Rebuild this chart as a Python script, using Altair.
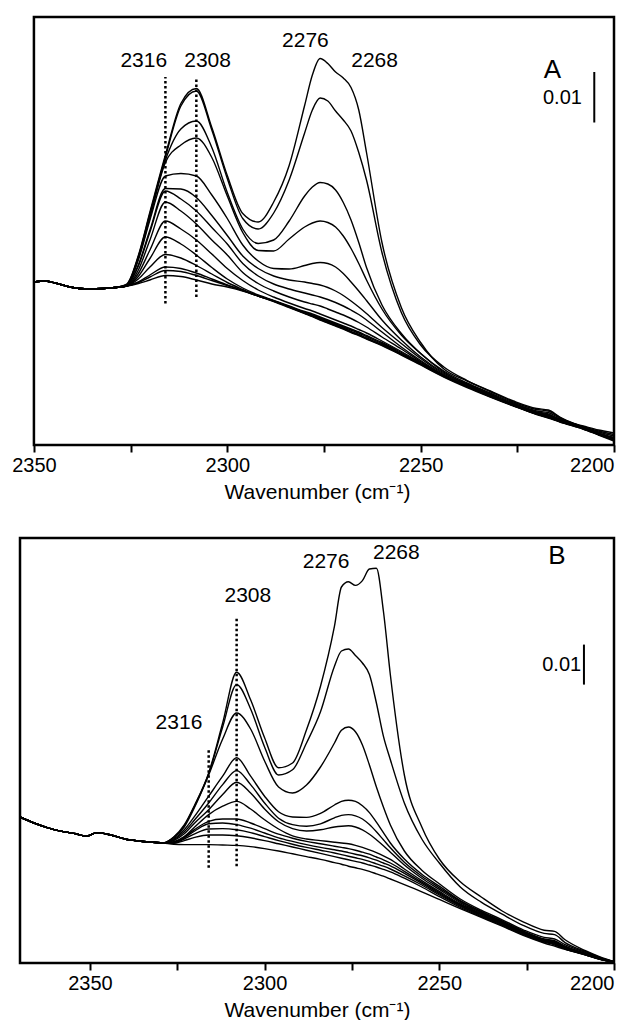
import altair as alt
import pandas as pd

FONT = "Liberation Sans"

# shared wavenumber grid (cm-1) for the band region
GRID = [2326, 2323, 2320, 2316, 2312, 2308, 2304, 2300, 2296, 2292, 2288, 2284,
        2280, 2278, 2276, 2274, 2272, 2270, 2268, 2266, 2264, 2260, 2255, 2250,
        2244, 2238, 2232, 2226, 2220, 2217, 2214, 2208, 2204, 2200]

# ---------------- Panel A ----------------
A_LEFT_W = [2350, 2347, 2344, 2340, 2336, 2332, 2329]
A_LEFT_V = [32.6, 32.8, 32.3, 31.5, 31.2, 31.3, 31.5]

A01 = [32.2, 37.9, 46.6, 58.0, 68.3, 71.3, 63.5, 53.9, 46.3, 44.6, 48.6, 55.9, 67.9, 74.0, 77.3, 76.3, 74.6, 73.4, 71.5, 67.0, 58.5, 40.5, 27.5, 20.5, 15.2, 12.8, 10.8, 8.8, 7.3, 7.0, 5.6, 3.6, 2.3, 1.2]
A02 = [32.1, 37.7, 46.3, 57.6, 67.8, 70.8, 63.0, 53.3, 45.3, 43.2, 46.4, 53.0, 62.4, 67.0, 69.4, 68.8, 66.8, 65.0, 62.8, 58.5, 53.0, 38.5, 26.5, 20.0, 15.6, 12.9, 10.7, 8.6, 7.1, 6.8, 5.5, 3.5, 2.2, 1.1]
A03 = [32.0, 37.5, 46.0, 57.0, 63.2, 64.8, 59.5, 50.5, 43.2, 40.3, 41.0, 44.8, 49.8, 51.6, 52.5, 52.2, 51.0, 48.5, 45.0, 40.5, 35.5, 28.0, 22.3, 18.3, 14.8, 12.4, 10.4, 8.4, 6.8, 6.5, 5.3, 3.5, 2.3, 1.3]
A04 = [32.0, 37.3, 45.5, 56.5, 60.0, 61.4, 57.5, 49.8, 42.5, 38.9, 38.8, 41.2, 43.6, 44.4, 44.8, 44.5, 43.6, 41.8, 39.3, 36.3, 33.0, 27.2, 22.0, 18.3, 14.6, 12.2, 10.2, 8.2, 6.6, 6.2, 5.1, 3.4, 2.2, 1.3]
A05 = [31.9, 37.0, 45.0, 53.8, 54.3, 53.8, 50.0, 45.3, 40.0, 36.8, 35.3, 35.2, 35.9, 36.3, 36.5, 36.3, 35.6, 34.3, 32.6, 30.8, 28.9, 25.0, 21.0, 17.6, 14.4, 12.1, 10.1, 8.1, 6.5, 6.0, 5.0, 3.4, 2.2, 1.2]
A06 = [31.9, 36.0, 43.0, 51.3, 51.2, 49.5, 45.9, 41.9, 37.8, 35.3, 33.8, 33.0, 32.6, 32.3, 32.0, 31.5, 30.8, 29.9, 28.8, 27.6, 26.3, 23.5, 20.3, 17.3, 14.2, 12.0, 10.0, 8.0, 6.4, 5.9, 4.9, 3.3, 2.1, 1.1]
A07 = [31.9, 35.8, 42.6, 50.8, 49.2, 46.8, 43.5, 40.2, 36.3, 33.8, 32.2, 31.2, 30.4, 30.0, 29.6, 29.1, 28.5, 27.8, 27.0, 26.1, 25.0, 22.6, 19.6, 16.9, 14.0, 11.8, 9.9, 7.9, 6.3, 5.8, 4.8, 3.3, 2.1, 1.0]
A08 = [31.8, 35.0, 41.0, 48.6, 46.8, 44.2, 41.0, 38.0, 34.5, 32.3, 30.8, 29.6, 28.6, 28.2, 27.8, 27.2, 26.6, 26.0, 25.3, 24.5, 23.6, 21.6, 19.2, 16.7, 13.9, 11.7, 9.8, 7.9, 6.2, 5.6, 4.7, 3.2, 2.1, 1.0]
A09 = [31.8, 34.3, 39.0, 44.8, 43.2, 41.0, 38.2, 35.3, 32.9, 31.0, 29.6, 28.4, 27.3, 26.8, 26.2, 25.6, 25.0, 24.4, 23.8, 23.1, 22.4, 20.8, 18.7, 16.5, 13.8, 11.7, 9.7, 7.9, 6.2, 5.5, 4.7, 3.3, 2.2, 1.2]
A10 = [31.8, 33.7, 37.3, 41.6, 40.2, 38.0, 35.5, 33.2, 31.4, 30.0, 28.9, 27.8, 26.7, 26.2, 25.6, 25.0, 24.4, 23.8, 23.2, 22.6, 21.9, 20.5, 18.5, 16.4, 13.8, 11.7, 9.7, 7.9, 6.2, 5.5, 4.7, 3.4, 2.4, 1.5]
A11 = [31.8, 33.2, 35.6, 38.1, 37.4, 35.9, 34.2, 32.5, 31.1, 29.8, 28.8, 27.7, 26.6, 26.0, 25.4, 24.8, 24.2, 23.6, 23.0, 22.4, 21.7, 20.3, 18.3, 16.3, 13.8, 11.7, 9.8, 8.0, 6.3, 5.6, 4.8, 3.5, 2.6, 1.8]
A12 = [31.8, 32.6, 34.0, 35.6, 35.3, 34.4, 33.2, 32.0, 30.9, 29.8, 28.8, 27.6, 26.4, 25.8, 25.2, 24.6, 24.0, 23.4, 22.7, 22.1, 21.4, 20.1, 18.2, 16.2, 13.8, 11.8, 9.9, 8.1, 6.4, 5.7, 5.0, 3.7, 2.8, 2.1]
A13 = [31.8, 32.5, 33.6, 34.9, 34.7, 33.9, 32.9, 31.9, 30.9, 29.8, 28.8, 27.6, 26.4, 25.8, 25.1, 24.5, 23.9, 23.3, 22.6, 22.0, 21.3, 20.0, 18.1, 16.1, 13.7, 11.7, 9.8, 8.0, 6.3, 5.7, 5.0, 3.8, 3.0, 2.4]
A14 = [31.8, 32.3, 33.0, 33.9, 33.7, 33.0, 32.2, 31.6, 30.8, 29.8, 28.7, 27.5, 26.3, 25.7, 25.0, 24.4, 23.8, 23.2, 22.5, 21.9, 21.2, 19.9, 18.0, 16.0, 13.6, 11.5, 9.6, 7.8, 6.1, 5.4, 4.6, 3.2, 2.0, 0.8]
A_CURVES = [A01, A02, A03, A04, A05, A06, A07, A08, A09, A10, A11, A12, A13, A14]

A_PEAK_LABELS = ["2316", "2308", "2276", "2268"]
A_PEAK_W = [2321.6, 2305.1, 2279.8, 2261.9]
A_PEAK_V = [76.8, 76.8, 80.8, 76.8]
A_TAG = {"t": "A", "w": 2215.9, "v": 75.0}
A_MARK_W = [2316, 2308]
A_MARK_V1 = [28.3, 29.6]
A_MARK_V2 = [73.6, 73.6]
A_BAR = {"w": 2205.1, "v1": 64.5, "v2": 74.6, "tw": 2208.3, "tv": 69.5}
A_XDOM = [2200, 2350]
A_VIEW = [2200, 2353.6]
A_YMAX = 85.6

# ---------------- Panel B ----------------
B_LEFT_W = [2370, 2366, 2362, 2358, 2354, 2351, 2348, 2344, 2340, 2336, 2332, 2329]
B_LEFT_V = [36.5, 35.0, 33.8, 32.9, 32.3, 31.7, 32.6, 32.0, 31.0, 30.5, 30.2, 30.0]

B01 = [31.5, 34.5, 39.5, 47.5, 60.0, 72.7, 65.8, 56.3, 48.8, 50.0, 58.3, 69.2, 84.2, 94.0, 95.3, 94.4, 95.6, 98.5, 98.7, 88.0, 72.0, 47.0, 34.0, 26.0, 20.3, 16.5, 13.0, 10.3, 8.2, 7.9, 5.8, 3.0, 1.5, 0.3]
B02 = [31.4, 34.3, 39.3, 47.3, 59.0, 69.6, 63.5, 54.0, 47.0, 48.3, 55.0, 62.8, 74.2, 78.0, 78.5, 76.9, 75.0, 72.1, 65.0, 56.7, 50.8, 40.0, 31.0, 25.0, 19.0, 15.2, 12.2, 9.4, 7.4, 7.1, 5.1, 2.8, 1.4, 0.3]
B03 = [31.3, 34.0, 39.0, 47.0, 56.0, 62.5, 58.5, 50.5, 44.0, 42.5, 44.5, 49.0, 55.0, 58.2, 59.0, 57.8, 54.5, 49.5, 44.0, 39.0, 34.5, 28.0, 23.2, 19.8, 16.0, 13.2, 10.8, 8.3, 6.4, 6.0, 4.6, 2.6, 1.3, 0.3]
B04 = [31.0, 33.3, 36.7, 41.7, 46.7, 51.3, 46.7, 41.7, 37.8, 36.5, 36.4, 37.4, 39.5, 40.4, 40.7, 40.4, 39.3, 37.6, 35.2, 32.6, 30.0, 26.0, 22.2, 19.2, 15.6, 12.9, 10.5, 8.0, 6.0, 5.6, 4.2, 2.4, 1.2, 0.3]
B05 = [30.8, 32.8, 35.8, 40.0, 44.6, 48.1, 44.6, 40.0, 36.2, 34.6, 34.2, 34.8, 36.3, 36.9, 37.1, 36.8, 36.0, 34.6, 32.8, 30.8, 28.8, 25.2, 21.7, 18.8, 15.4, 12.8, 10.4, 7.9, 5.9, 5.4, 4.1, 2.3, 1.2, 0.3]
B06 = [30.6, 32.3, 35.0, 38.3, 42.1, 45.2, 42.5, 38.5, 35.3, 33.6, 33.0, 33.3, 34.0, 34.2, 34.3, 34.0, 33.3, 32.2, 30.8, 29.3, 27.7, 24.5, 21.2, 18.4, 15.1, 12.6, 10.2, 7.8, 5.8, 5.2, 4.0, 2.2, 1.1, 0.3]
B07 = [30.3, 31.6, 34.0, 37.1, 39.2, 40.4, 38.5, 35.8, 33.5, 31.8, 31.0, 30.6, 30.2, 30.0, 29.8, 29.4, 28.9, 28.3, 27.6, 26.8, 25.9, 23.5, 20.6, 17.9, 14.8, 12.4, 10.1, 7.7, 5.7, 5.1, 3.9, 2.2, 1.1, 0.3]
B08 = [30.2, 31.5, 33.4, 35.4, 36.0, 36.0, 35.0, 33.6, 32.2, 31.2, 30.4, 29.8, 29.2, 28.9, 28.6, 28.2, 27.7, 27.2, 26.5, 25.8, 25.0, 22.9, 20.2, 17.6, 14.6, 12.2, 9.9, 7.6, 5.6, 5.0, 3.8, 2.1, 1.0, 0.2]
B09 = [30.1, 31.3, 33.0, 34.8, 35.0, 34.6, 33.7, 32.5, 31.3, 30.4, 29.6, 28.9, 28.3, 28.0, 27.6, 27.2, 26.8, 26.3, 25.7, 25.0, 24.3, 22.4, 19.9, 17.3, 14.4, 12.0, 9.8, 7.5, 5.5, 4.9, 3.7, 2.1, 1.0, 0.2]
B10 = [30.0, 31.0, 32.3, 33.5, 33.6, 33.3, 32.6, 31.6, 30.6, 29.7, 28.9, 28.2, 27.5, 27.1, 26.7, 26.3, 25.9, 25.4, 24.8, 24.2, 23.5, 21.8, 19.5, 17.0, 14.2, 11.8, 9.6, 7.3, 5.4, 4.7, 3.6, 2.0, 0.9, 0.2]
B11 = [29.9, 30.6, 31.4, 32.0, 32.0, 31.8, 31.3, 30.6, 29.8, 29.0, 28.2, 27.4, 26.6, 26.2, 25.8, 25.4, 25.0, 24.5, 24.0, 23.4, 22.8, 21.2, 19.0, 16.6, 13.9, 11.6, 9.4, 7.1, 5.2, 4.5, 3.5, 2.0, 0.9, 0.2]
B12 = [29.7, 29.6, 29.6, 29.6, 29.5, 29.4, 29.1, 28.6, 28.0, 27.3, 26.6, 25.9, 25.1, 24.7, 24.2, 23.8, 23.4, 22.9, 22.3, 21.7, 21.0, 19.6, 17.8, 15.9, 13.6, 11.4, 9.2, 6.9, 5.0, 4.2, 3.4, 2.0, 1.0, 0.2]
B_CURVES = [B01, B02, B03, B04, B05, B06, B07, B08, B09, B10, B11, B12]

B_PEAK_LABELS = ["2316", "2308", "2276", "2268"]
B_PEAK_W = [2324.5, 2304.8, 2282.4, 2262.3]
B_PEAK_V = [60.0, 91.8, 100.2, 102.5]
B_TAG = {"t": "B", "w": 2216.3, "v": 101.8}
B_MARK_W = [2316, 2308]
B_MARK_V1 = [23.8, 24.2]
B_MARK_V2 = [53.8, 86.3]
B_BAR = {"w": 2208.6, "v1": 69.6, "v2": 79.6, "tw": 2209.4, "tv": 74.6}
B_XDOM = [2200, 2370]
B_VIEW = [2200, 2370]
B_YMAX = 106.25

TICKS = [2350, 2325, 2300, 2275, 2250, 2225, 2200]


def curve_frame(left_w, left_v, curves):
    rows = []
    for i, vals in enumerate(curves):
        for w, v in zip(left_w + GRID, left_v + vals):
            rows.append({"curve": "c%02d" % i, "w": w, "v": v})
    return pd.DataFrame(rows)


def panel(left_w, left_v, curves, plabels, pw, pv, tag, mw, mv1, mv2, bar,
          frame_dom, view_dom, ymax, height):
    xs = alt.Scale(domain=view_dom, reverse=True, nice=False, zero=False)
    ys = alt.Scale(domain=[0, ymax], nice=False, zero=False)
    xaxis = alt.Axis(values=TICKS, format="d", title="Wavenumber (cm\u207b\u00b9)",
                     labelExpr="datum.value % 50 == 0 ? datum.label : ''",
                     domain=False, grid=False, tickSize=7, tickWidth=2,
                     tickColor="black", labelPadding=3, titlePadding=6,
                     labelFontSize=20, titleFontSize=21, labelFont=FONT,
                     titleFont=FONT, titleFontWeight="normal",
                     labelColor="black", titleColor="black")
    df = curve_frame(left_w, left_v, curves)
    lines = alt.Chart(df).mark_line(color="black", strokeWidth=1.4,
                                    interpolate="monotone").encode(
        x=alt.X("w:Q", scale=xs, axis=xaxis),
        y=alt.Y("v:Q", scale=ys, axis=None),
        detail="curve:N",
    )
    fr = pd.DataFrame({"x1": [frame_dom[1]], "x2": [frame_dom[0]],
                       "y1": [0.0], "y2": [ymax]})
    frame = alt.Chart(fr).mark_rect(fill="white", fillOpacity=0, stroke="black",
                                    strokeWidth=2.5).encode(
        x=alt.X("x1:Q", scale=xs), x2="x2:Q",
        y=alt.Y("y1:Q", scale=ys), y2="y2:Q")
    md = pd.DataFrame({"w": mw, "v1": mv1, "v2": mv2})
    marks = alt.Chart(md).mark_rule(color="black", strokeWidth=2.5,
                                    strokeDash=[2.5, 2.5]).encode(
        x=alt.X("w:Q", scale=xs), y=alt.Y("v1:Q", scale=ys), y2="v2:Q")
    ld = pd.DataFrame({"t": plabels, "w": pw, "v": pv})
    texts = alt.Chart(ld).mark_text(font=FONT, fontSize=21, color="black",
                                    align="center", baseline="middle").encode(
        x=alt.X("w:Q", scale=xs), y=alt.Y("v:Q", scale=ys), text="t:N")
    td = pd.DataFrame({"t": [tag["t"]], "w": [tag["w"]], "v": [tag["v"]]})
    tagtext = alt.Chart(td).mark_text(font=FONT, fontSize=26, color="black",
                                      align="center", baseline="middle").encode(
        x=alt.X("w:Q", scale=xs), y=alt.Y("v:Q", scale=ys), text="t:N")
    bd = pd.DataFrame({"w": [bar["w"]], "v1": [bar["v1"]], "v2": [bar["v2"]],
                       "tw": [bar["tw"]], "tv": [bar["tv"]], "t": ["0.01"]})
    barrule = alt.Chart(bd).mark_rule(color="black", strokeWidth=2).encode(
        x=alt.X("w:Q", scale=xs), y=alt.Y("v1:Q", scale=ys), y2="v2:Q")
    bartext = alt.Chart(bd).mark_text(font=FONT, fontSize=20, color="black",
                                      align="right", baseline="middle").encode(
        x=alt.X("tw:Q", scale=xs), y=alt.Y("tv:Q", scale=ys), text="t:N")
    return alt.layer(lines, frame, marks, texts, tagtext, barrule,
                     bartext).properties(width=594, height=height)


pa = panel(A_LEFT_W, A_LEFT_V, A_CURVES, A_PEAK_LABELS, A_PEAK_W, A_PEAK_V,
           A_TAG, A_MARK_W, A_MARK_V1, A_MARK_V2, A_BAR,
           A_XDOM, A_VIEW, A_YMAX, 428)
pb = panel(B_LEFT_W, B_LEFT_V, B_CURVES, B_PEAK_LABELS, B_PEAK_W, B_PEAK_V,
           B_TAG, B_MARK_W, B_MARK_V1, B_MARK_V2, B_BAR,
           B_XDOM, B_VIEW, B_YMAX, 425)

chart = alt.vconcat(pa, pb, spacing=34).configure_view(strokeWidth=0).properties(
    padding={"left": 3, "top": 7, "right": 0, "bottom": 0})

chart.save("out.html", embed_options={"renderer": "svg", "actions": False})
